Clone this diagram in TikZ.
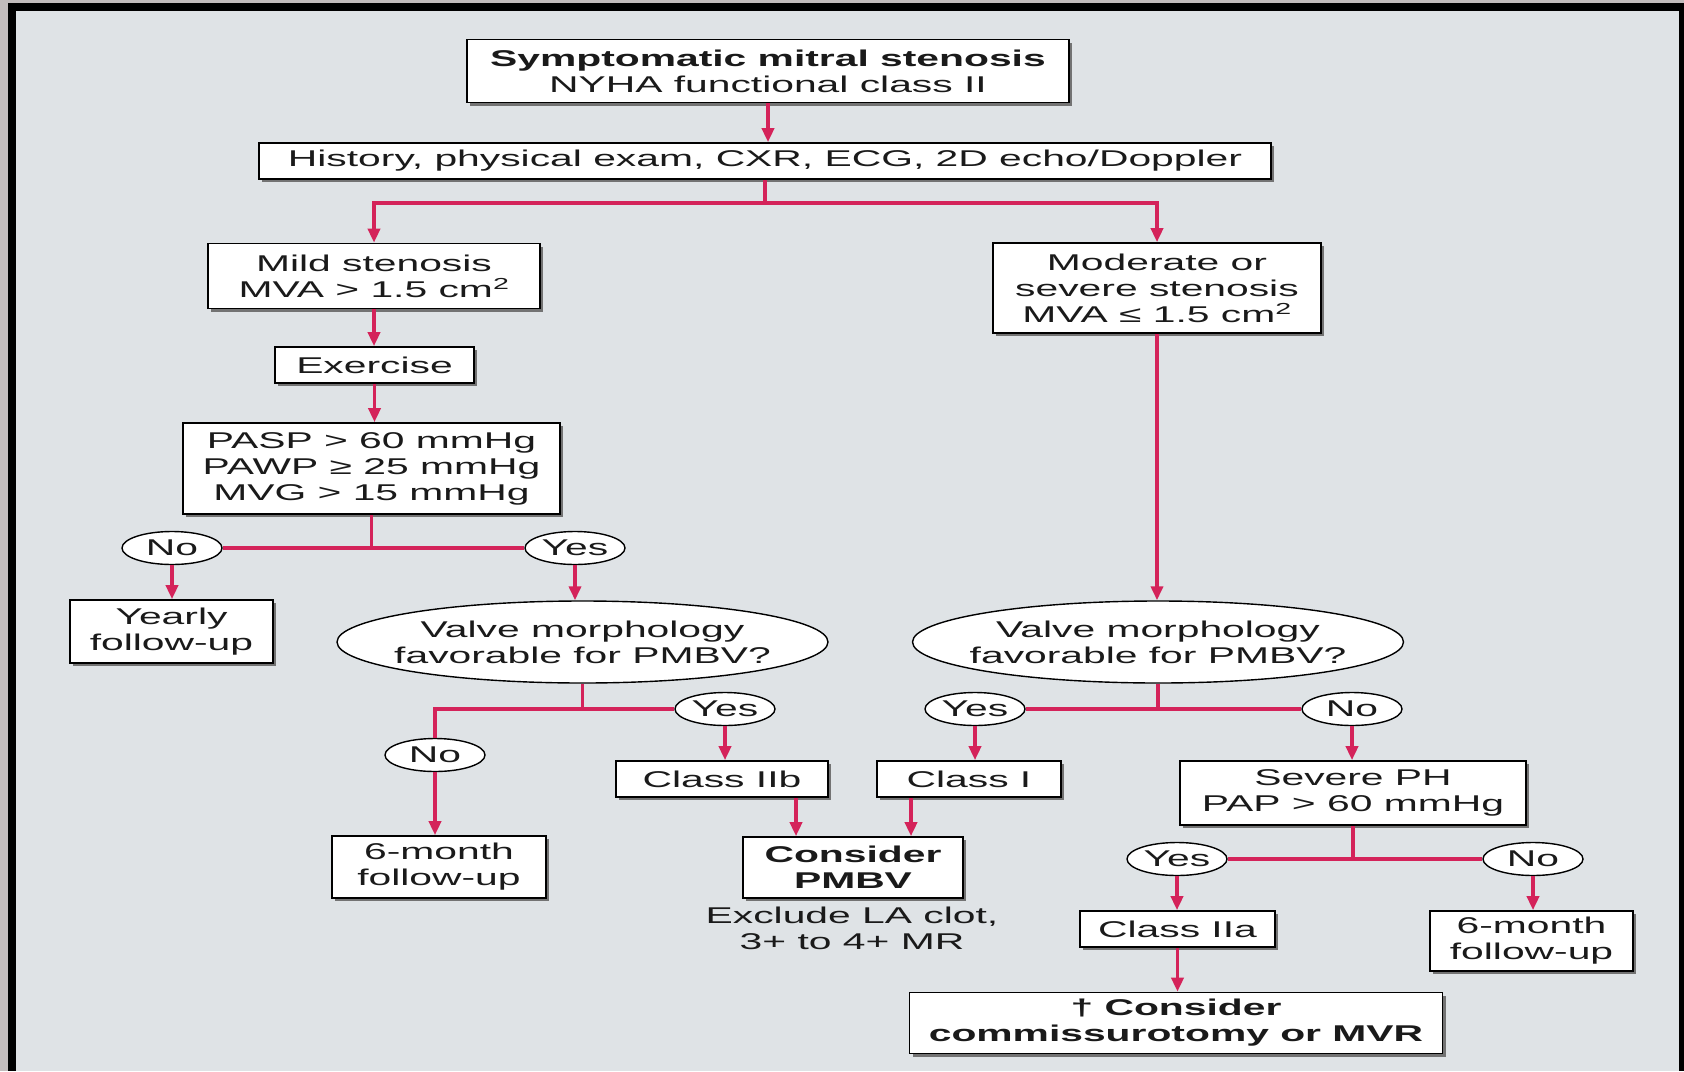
\documentclass[tikz,border=0pt]{standalone}
\usepackage{fontspec}
\setmainfont{Liberation Sans}[FakeStretch=1.79]
\usetikzlibrary{arrows.meta, calc, shapes.geometric, shadows}
\definecolor{flowred}{HTML}{D4235A}
\definecolor{panel}{HTML}{DFE3E6}
\definecolor{rim}{HTML}{C2BCBC}
\definecolor{ink}{HTML}{1A1A1A}

\begin{document}
\begin{tikzpicture}[x=1pt, y=-1pt, >={Triangle[length=14pt, width=12pt]},
	font=\fontsize{22.8}{26}\selectfont,
	box/.style={draw=black, line width=1.6pt, fill=white, inner sep=0pt, align=center, text=ink,
		drop shadow={shadow xshift=3pt, shadow yshift=-3pt, fill=black!55, opacity=1}},
	strong/.style={font=\fontsize{22.8}{26}\selectfont\bfseries},
	oval/.style={ellipse, draw=black, line width=1.4pt, fill=white, inner sep=0pt, text=ink,
		minimum width=100pt, minimum height=33pt},
	query/.style={oval, align=center, inner xsep=-30pt, minimum width=491pt, minimum height=82pt},
	flow/.style={draw=flowred, line width=3.5pt}]
	\useasboundingbox (0,0) rectangle (1684,1071);
	\fill[rim] (0,0) rectangle (1684,1071);
	\fill[black] (8,3) rectangle (1684,1071);
	\fill[panel] (16,11) rectangle (1679,1071);
%	\draw[gray!50, dashed, step=100] (0,0) grid (1684,1071);

	\node[box, minimum width=602pt, minimum height=63pt] (top) at (768,71)
	{\textbf{Symptomatic mitral stenosis}\\NYHA functional class II};
	\node[box, minimum width=1012pt, minimum height=36pt] (hist) at (765,161)
	{History, physical exam, CXR, ECG, 2D echo/Doppler};
	\node[box, minimum width=332pt, minimum height=65pt] (mild) at (374,276)
	{Mild stenosis\\MVA > 1.5 cm\textsuperscript{2}};
	\node[box, minimum width=328pt, minimum height=90pt] (moder) at (1157,288)
	{Moderate or\\severe stenosis\\MVA ≤ 1.5 cm\textsuperscript{2}};

	% mild branch
	\node[box, minimum width=199pt, minimum height=36pt] (exer) at (374.5,365) {Exercise};
	\node[box, minimum width=377pt, minimum height=91pt] (pasp) at (371.5,468.5)
	{PASP > 60 mmHg\\PAWP ≥ 25 mmHg\\MVG > 15 mmHg};
	\node[oval] (no1) at (172,548) {No};
	\node[oval] (yes1) at (575,548) {Yes};
	\node[box, minimum width=203pt, minimum height=63pt] (yearly) at (171.5,631.5) {Yearly\\follow-up};
	\node[query] (valveL) at (582.5,642) {Valve morphology\\favorable for PMBV?};
	\node[oval] (yes2) at (725,709) {Yes};
	\node[oval] (no2) at (435,755) {No};
	\node[box, minimum width=214pt, minimum height=62pt] (sixL) at (439,867) {6-month\\follow-up};
	\node[box, minimum width=212pt, minimum height=36pt] (c2b) at (722,779) {Class IIb};

	% moderate / severe branch
	\node[query] (valveR) at (1158,642) {Valve morphology\\favorable for PMBV?};
	\node[oval] (yes3) at (975,709) {Yes};
	\node[oval] (no3) at (1352,709) {No};
	\node[box, minimum width=184pt, minimum height=36pt] (c1) at (969,779) {Class I};
	\node[box, strong, minimum width=220pt, minimum height=61pt] (pmbv) at (853,867.5) {Consider\\PMBV};
	\node[align=center, text=ink] (excl) at (852,928) {Exclude LA clot,\\3+ to 4+ MR};
	\node[box, minimum width=346pt, minimum height=64pt] (sevph) at (1353,793) {Severe PH\\PAP > 60 mmHg};
	\node[oval] (yes4) at (1177,859) {Yes};
	\node[oval] (no4) at (1533,859) {No};
	\node[box, minimum width=195pt, minimum height=36pt] (c2a) at (1177.5,929) {Class IIa};
	\node[box, minimum width=203pt, minimum height=60pt] (sixR) at (1531.5,941) {6-month\\follow-up};
	\node[box, strong, minimum width=533pt, minimum height=61pt] (comm) at (1176,1023)
	{† Consider\\commissurotomy or MVR};

	% connectors
	\draw[flow, ->] (top.south) -- (top.south |- hist.north);
	\coordinate (split1) at ($(hist.south)+(0,23)$);
	\draw[flow] (hist.south) -- (split1);
	\draw[flow, ->] (split1) -| (mild);
	\draw[flow, ->] (split1) -| (moder);
	\draw[flow, ->] (mild.south) -- (mild.south |- exer.north);
	\draw[flow, ->] (exer.south) -- (exer.south |- pasp.north);
	\draw[flow] (pasp.south) -- (pasp.south |- no1.center);
	\draw[flow] (no1) -- (yes1);
	\draw[flow, ->] (no1.south) -- (no1.south |- yearly.north);
	\draw[flow, ->] (yes1.south) -- (yes1.south |- valveL.north);
	\coordinate (splitL) at (valveL.south |- yes2.center);
	\draw[flow] (valveL.south) -- (splitL) -- (yes2);
	\draw[flow] (splitL) -| (no2);
	\draw[flow, ->] (no2.south) -- (no2.south |- sixL.north);
	\draw[flow, ->] (yes2.south) -- (yes2.south |- c2b.north);
	\draw[flow, ->] ([xshift=74pt]c2b.south) -- ([xshift=74pt]c2b.south |- pmbv.north);
	\draw[flow, ->] (moder.south) -- (moder.south |- valveR.north);
	\draw[flow] (valveR.south) -- (valveR.south |- yes3.center);
	\draw[flow] (yes3) -- (no3);
	\draw[flow, ->] (yes3.south) -- (yes3.south |- c1.north);
	\draw[flow, ->] ([xshift=-58pt]c1.south) -- ([xshift=-58pt]c1.south |- pmbv.north);
	\draw[flow, ->] (no3.south) -- (no3.south |- sevph.north);
	\draw[flow] (sevph.south) -- (sevph.south |- yes4.center);
	\draw[flow] (yes4) -- (no4);
	\draw[flow, ->] (yes4.south) -- (yes4.south |- c2a.north);
	\draw[flow, ->] (no4.south) -- (no4.south |- sixR.north);
	\draw[flow, ->] (c2a.south) -- (c2a.south |- comm.north);
\end{tikzpicture}
\end{document}
